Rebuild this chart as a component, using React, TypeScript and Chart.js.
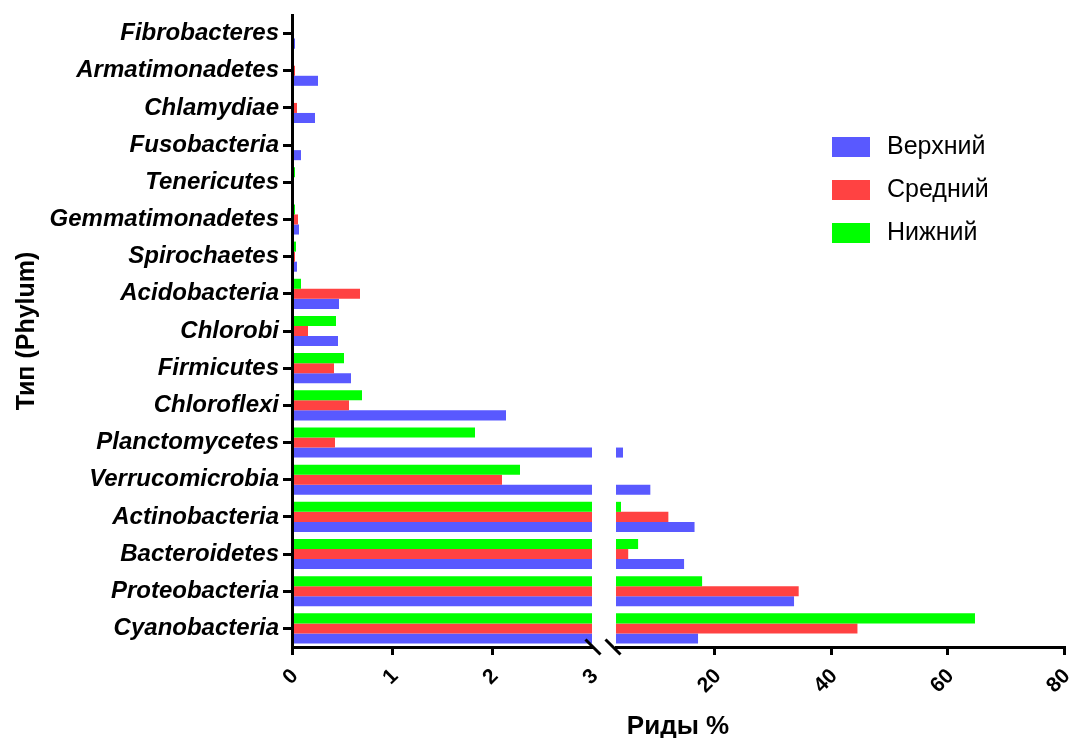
import React, { useEffect, useRef } from "react";
import { Chart, registerables } from "chart.js";

Chart.register(...registerables);

// Categories listed top to bottom
const categories = [
  "Fibrobacteres",
  "Armatimonadetes",
  "Chlamydiae",
  "Fusobacteria",
  "Tenericutes",
  "Gemmatimonadetes",
  "Spirochaetes",
  "Acidobacteria",
  "Chlorobi",
  "Firmicutes",
  "Chloroflexi",
  "Planctomycetes",
  "Verrucomicrobia",
  "Actinobacteria",
  "Bacteroidetes",
  "Proteobacteria",
  "Cyanobacteria",
];

const upperValues = [0.03, 0.26, 0.23, 0.09, 0, 0.07, 0.05, 0.47, 0.46, 0.59, 2.14, 4.2, 8.9, 16.5, 14.7, 33.6, 17.1];
const middleValues = [0, 0.03, 0.05, 0, 0, 0.06, 0.03, 0.68, 0.16, 0.42, 0.57, 0.43, 2.1, 12.0, 5.1, 34.4, 44.5];
const lowerValues = [0, 0, 0, 0, 0.03, 0.03, 0.04, 0.09, 0.44, 0.52, 0.7, 1.83, 2.28, 3.86, 6.8, 17.8, 64.7];

const seriesNames = ["Верхний", "Средний", "Нижний"];
const seriesColors = ["#5959FF", "#FF4242", "#00FF00"];

const leftTicks = [0, 1, 2, 3];
const rightTicks = [20, 40, 60, 80];
const breakValue = 3;
const axisMax = 80;

const xTitle = "Риды %";
const yTitle = "Тип (Phylum)";

const FONT = "'Liberation Sans', Arial, sans-serif";

export default function App() {
  const ref = useRef<HTMLCanvasElement | null>(null);

  useEffect(() => {
    if (!ref.current) return;
    const series = [
      { name: seriesNames[2], values: lowerValues, color: seriesColors[2] },
      { name: seriesNames[1], values: middleValues, color: seriesColors[1] },
      { name: seriesNames[0], values: upperValues, color: seriesColors[0] },
    ];
    const datasets: any[] = [];
    series.forEach((s, i) => {
      datasets.push({
        label: s.name,
        data: s.values.map((v) => Math.min(v, breakValue)),
        backgroundColor: s.color,
        borderWidth: 0,
        xAxisID: "xL",
        yAxisID: "y",
        stack: "s" + i,
        categoryPercentage: 0.81,
        barPercentage: 1,
      });
      datasets.push({
        label: s.name + " (2)",
        data: s.values.map((v) => (v > breakValue ? v : null)),
        backgroundColor: s.color,
        borderWidth: 0,
        xAxisID: "xR",
        yAxisID: "y",
        stack: "s" + i,
        base: breakValue,
        categoryPercentage: 0.81,
        barPercentage: 1,
      });
    });

    const overlay = {
      id: "overlay",
      afterDraw(chart: any) {
        const ctx = chart.ctx;
        const xL = chart.scales.xL;
        const xR = chart.scales.xR;
        const area = chart.chartArea;
        ctx.save();
        // break marks
        ctx.strokeStyle = "#000";
        ctx.lineWidth = 3;
        const yb = area.bottom;
        const c1 = xL.right + 1;
        const c2 = xR.left - 3;
        [c1, c2].forEach((cx) => {
          ctx.beginPath();
          ctx.moveTo(cx - 7.5, yb - 7.5);
          ctx.lineTo(cx + 7.5, yb + 7.5);
          ctx.stroke();
        });
        // x tick labels (rotated)
        ctx.fillStyle = "#000";
        ctx.font = `bold 21px ${FONT}`;
        ctx.textAlign = "right";
        ctx.textBaseline = "middle";
        const drawTick = (scale: any, v: number) => {
          const x = scale.getPixelForValue(v);
          ctx.save();
          ctx.translate(x + 3, yb + 26);
          ctx.rotate(-Math.PI / 4);
          ctx.fillText(String(v), 0, 0);
          ctx.restore();
        };
        leftTicks.forEach((v) => drawTick(xL, v));
        rightTicks.forEach((v) => drawTick(xR, v));
        // x title
        ctx.font = `bold 26px ${FONT}`;
        ctx.textAlign = "center";
        ctx.textBaseline = "middle";
        ctx.fillText(xTitle, (xL.left + xR.right) / 2, 727);
        // legend
        [0, 1, 2].forEach((k, j) => {
          const top = 137 + j * 43;
          ctx.fillStyle = seriesColors[k];
          ctx.fillRect(832, top, 38, 20);
          ctx.fillStyle = "#000";
          ctx.font = `25px ${FONT}`;
          ctx.textAlign = "left";
          ctx.textBaseline = "middle";
          ctx.fillText(seriesNames[k], 887, top + 10);
        });
        ctx.restore();
      },
    };

    const xCommon = (ticksArr: number[]) => ({
      type: "linear",
      position: "bottom",
      stack: "x",
      stacked: false,
      afterBuildTicks: (s: any) => {
        s.ticks = ticksArr.map((v) => ({ value: v }));
      },
      afterFit: (s: any) => {
        s.height = 91;
        s.paddingLeft = 0;
        s.paddingRight = 0;
      },
      grid: {
        display: true,
        drawOnChartArea: false,
        drawTicks: true,
        tickLength: 8,
        lineWidth: 3,
        color: (c: any) => (c.tick && c.tick.value === breakValue ? "rgba(0,0,0,0)" : "#000"),
      },
      border: { display: true, color: "#000", width: 3, z: 1 },
      ticks: { display: false },
    });

    const chart = new Chart(ref.current, {
      type: "bar",
      data: { labels: categories, datasets },
      plugins: [overlay],
      options: {
        indexAxis: "y",
        animation: false,
        responsive: false,
        devicePixelRatio: 1,
        layout: { padding: { left: 0, right: 6, top: 15, bottom: 0 } },
        plugins: {
          legend: { display: false },
          tooltip: { enabled: false },
        },
        scales: {
          xL: { ...xCommon(leftTicks), min: 0, max: breakValue, stackWeight: 300 },
          xGap: {
            type: "linear",
            position: "bottom",
            stack: "x",
            stackWeight: 24,
            display: true,
            afterFit: (s: any) => {
              s.height = 91;
              s.paddingLeft = 0;
              s.paddingRight = 0;
            },
            grid: { display: false },
            border: { display: false },
            ticks: { display: false },
          },
          xR: { ...xCommon(rightTicks), min: breakValue, max: axisMax, stackWeight: 448 },
          y: {
            type: "category",
            position: "left",
            offset: true,
            afterFit: (s: any) => {
              s.width = 292;
              s.paddingTop = 0;
              s.paddingBottom = 0;
            },
            grid: {
              display: true,
              offset: false,
              drawOnChartArea: false,
              drawTicks: true,
              tickLength: 9,
              lineWidth: 3,
              color: "#000",
            },
            border: { display: true, color: "#000", width: 3, z: 1 },
            ticks: {
              font: { family: FONT, size: 24, style: "italic", weight: "bold" },
              color: "#000",
              padding: 4,
              autoSkip: false,
            },
            title: {
              display: true,
              text: yTitle,
              font: { family: FONT, size: 25, weight: "bold" },
              color: "#000",
              padding: { top: 12, bottom: 0 },
            },
          },
        } as any,
      },
    } as any);

    return () => chart.destroy();
  }, []);

  return (
    <div style={{ position: "absolute", left: 0, top: 0, width: 1070, height: 738, background: "#fff" }}>
      <canvas ref={ref} width={1070} height={738} style={{ display: "block" }} />
    </div>
  );
}
